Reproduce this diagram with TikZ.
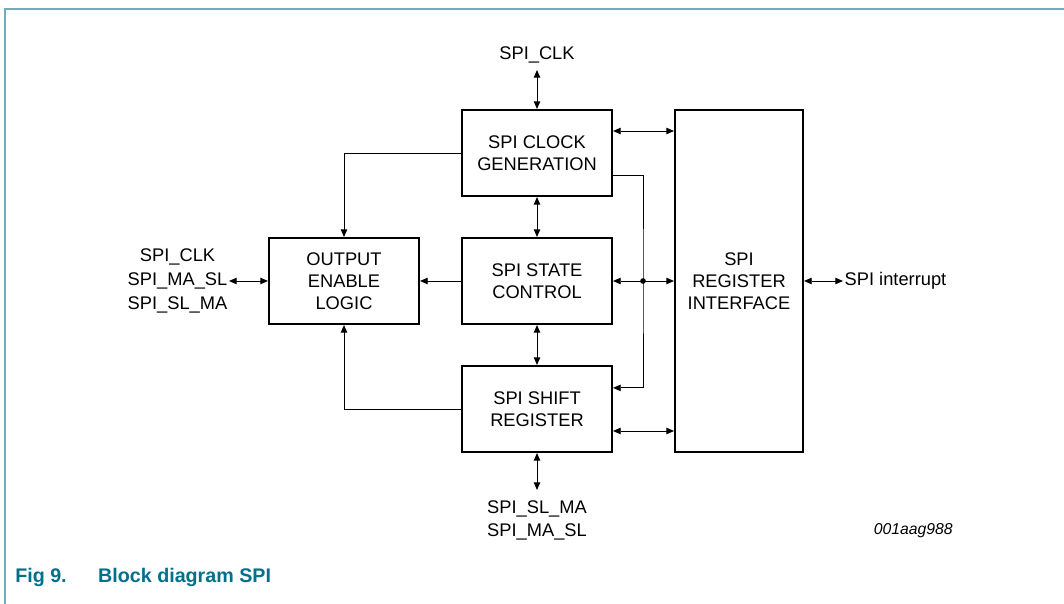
\documentclass[tikz,border=0pt]{standalone}
\usepackage{fontspec}
\setmainfont{Liberation Sans}
\usetikzlibrary{calc,positioning,arrows.meta}
\definecolor{framecol}{RGB}{112,172,186}
\definecolor{capcol}{RGB}{0,112,140}
\tikzset{
  blk/.style={draw,line width=1.4pt,minimum width=3.75cm,minimum height=2.15cm,align=center,inner sep=2pt},
  arr/.style={line width=0.7pt,-{Triangle[length=5.5pt,width=4.6pt]}},
  dbl/.style={line width=0.7pt,{Triangle[length=5.5pt,width=4.6pt]}-{Triangle[length=5.5pt,width=4.6pt]}},
  lbl/.style={align=center,inner sep=1pt}
}
\begin{document}
\begin{tikzpicture}[x=0.025cm,y=-0.025cm,font=\fontsize{13}{15.5}\selectfont]
  \useasboundingbox (0,0) rectangle (1064,604);
  % frame and caption
  \draw[framecol,line width=1.4pt] (5,604) -- (5,9) -- (1064,9);
  \node[anchor=west,inner sep=0pt,text=capcol,font=\fontsize{14}{16}\selectfont\bfseries] (cap) at (15,577) {Fig 9.\hspace{1.6em}Block diagram SPI};
  \node[anchor=east,inner sep=0pt,font=\fontsize{11.2}{13}\selectfont\itshape] (code) at (953,531) {001aag988};
  % blocks
  \node[blk] (clkgen) at (537,153) {SPI CLOCK\\GENERATION};
  \node[blk] (statectl) at (537,281) {SPI STATE\\CONTROL};
  \node[blk] (shiftreg) at (537,409) {SPI SHIFT\\REGISTER};
  \node[blk] (outen) at (344,281) {OUTPUT\\ENABLE\\LOGIC};
  \node[blk,minimum width=3.2cm,minimum height=8.55cm] (regif) at (739,281) {SPI\\REGISTER\\INTERFACE};
  % pins
  \coordinate (clkin) at (537,70);
  \coordinate (shpin) at (537,490);
  \coordinate (outpin) at (229,281);
  \coordinate (irq) at (843,281);
  \coordinate (bus) at (643,281);
  \node[lbl,anchor=south] (clklbl) at (537,65) {SPI\_CLK};
  \node[lbl,anchor=north,font=\fontsize{13}{16.4}\selectfont] (shlbl) at (537,499) {SPI\_SL\_MA\\SPI\_MA\_SL};
  \node[lbl,anchor=east,font=\fontsize{13}{16.8}\selectfont] (outlbl) at (outpin) {SPI\_CLK\\SPI\_MA\_SL\\SPI\_SL\_MA};
  \node[lbl,anchor=west] (irqlbl) at (irq) {SPI interrupt};
  % connectors
  \draw[dbl] (clkin) -- (clkgen.north);
  \draw[dbl] (clkgen) -- (statectl);
  \draw[dbl] (statectl) -- (shiftreg);
  \draw[dbl] (shiftreg.south) -- (shpin);
  \draw[dbl] ($(clkgen.north east)!.25!(clkgen.south east)$) coordinate (c1) -- (c1 -| regif.west);
  \draw[dbl] (statectl.east) -- (regif.west);
  \draw[dbl] ($(shiftreg.north east)!.75!(shiftreg.south east)$) coordinate (s1) -- (s1 -| regif.west);
  \draw[arr] ($(clkgen.north east)!.76!(clkgen.south east)$) -| (bus) |- ($(shiftreg.north east)!.26!(shiftreg.south east)$);
  \fill (bus) circle (2pt);
  \draw[arr] (clkgen.west) -| (outen.north);
  \draw[arr] (statectl.west) -- (outen.east);
  \draw[arr] (shiftreg.west) -| (outen.south);
  \draw[dbl] (outen.west) -- (outpin);
  \draw[dbl] (regif.east) -- (irq);
\end{tikzpicture}
\end{document}
